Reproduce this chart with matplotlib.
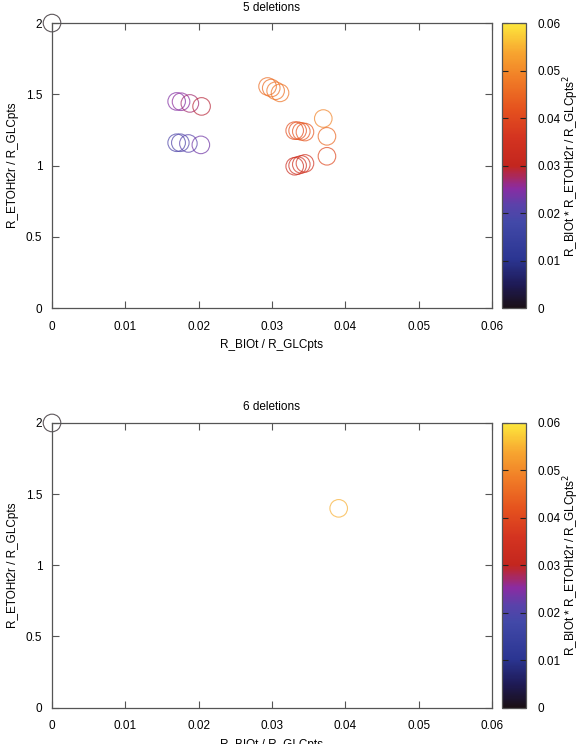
#!/usr/bin/env python3
"""Two gnuplot-style scatter panels: flux ratios for 5 and 6 deletions."""

import matplotlib
matplotlib.use("Agg")
import matplotlib.pyplot as plt
from matplotlib.colors import LinearSegmentedColormap, Normalize

plt.rcParams["font.family"] = ["Liberation Sans", "DejaVu Sans"]
plt.rcParams["font.size"] = 8.5

# --- data -------------------------------------------------------------
# 5 deletions
x5 = [0.0,
      0.0170, 0.0176, 0.0188, 0.0204,      # purple, upper row
      0.0170, 0.0175, 0.0186, 0.0203,      # blue, lower row
      0.0294, 0.0299, 0.0305, 0.0311,      # top orange cluster
      0.0331, 0.0335, 0.0340, 0.0345,      # middle upper row
      0.0331, 0.0335, 0.0340, 0.0345,      # middle lower row
      0.0370, 0.0375, 0.0375]              # right column
y5 = [2.0,
      1.450, 1.448, 1.436, 1.415,
      1.160, 1.160, 1.155, 1.145,
      1.555, 1.544, 1.525, 1.510,
      1.245, 1.245, 1.240, 1.235,
      0.995, 1.000, 1.008, 1.015,
      1.330, 1.205, 1.065]

# 6 deletions
x6 = [0.0, 0.0391]
y6 = [2.0, 1.40]

titles = ["5 deletions", "6 deletions"]
xticks = [0, 0.01, 0.02, 0.03, 0.04, 0.05, 0.06]
yticks = [0, 0.5, 1, 1.5, 2]
cticks = [0, 0.01, 0.02, 0.03, 0.04, 0.05, 0.06]

# gnuplot-like palette
cmap = LinearSegmentedColormap.from_list("box", [
    (0.00, "#1a1016"), (0.08, "#1e1a55"), (0.17, "#2b3592"),
    (0.30, "#4249a8"), (0.36, "#5a42aa"), (0.42, "#8a2ca2"),
    (0.47, "#b0284e"), (0.50, "#c3261e"), (0.60, "#d43420"),
    (0.70, "#e5521e"), (0.80, "#f07a26"), (0.90, "#f7a630"),
    (1.00, "#fde83c")])
norm = Normalize(0, 0.06)

fig = plt.figure(figsize=(5.85, 7.44), dpi=100)
axes_rects = [[0.0889, 0.586, 0.752, 0.383], [0.0889, 0.049, 0.752, 0.3825]]
cbar_rects = [[0.858, 0.586, 0.041, 0.383], [0.858, 0.049, 0.041, 0.3825]]
edge = "#555555"

for (xs, ys), title, ar, cr in zip([(x5, y5), (x6, y6)], titles, axes_rects, cbar_rects):
    ax = fig.add_axes(ar)
    vals = [a * b for a, b in zip(xs, ys)]
    sc = ax.scatter(xs, ys, c=vals, cmap=cmap, norm=norm, s=160,
                    linewidths=0.8, alpha=0.7, clip_on=False)
    sc.set_facecolor("none")
    sc.set_edgecolor(cmap(norm(vals)))

    ax.set_xlim(0, 0.06)
    ax.set_ylim(0, 2)
    ax.set_xticks(xticks)
    ax.set_xticklabels(["0", "0.01", "0.02", "0.03", "0.04", "0.05", "0.06"])
    ax.set_yticks(yticks)
    ax.set_yticklabels(["0", "0.5", "1", "1.5", "2"])
    ax.tick_params(direction="in", length=5, width=0.8, color=edge,
                   top=True, right=True, pad=7)
    ax.tick_params(axis="x", pad=9)
    for sp in ax.spines.values():
        sp.set_color(edge)
        sp.set_linewidth(0.9)
    ax.set_title(title, fontsize=8.5, pad=9)
    ax.set_xlabel("R_BIOt / R_GLCpts", labelpad=5)
    ax.set_ylabel("R_ETOHt2r / R_GLCpts", labelpad=5)

    cax = fig.add_axes(cr)
    cb = fig.colorbar(plt.cm.ScalarMappable(norm=norm, cmap=cmap), cax=cax)
    cb.set_ticks(cticks)
    cb.set_ticklabels(["0", "0.01", "0.02", "0.03", "0.04", "0.05", "0.06"])
    cax.tick_params(direction="in", length=4, width=0.8, color="#222222",
                    left=True, right=True, pad=8)
    cb.outline.set_edgecolor(edge)
    cb.outline.set_linewidth(0.9)
    cb.set_label("R_BIOt * R_ETOHt2r / R_GLCpts$^2$", labelpad=1)

fig.savefig("out.png", dpi=100)
